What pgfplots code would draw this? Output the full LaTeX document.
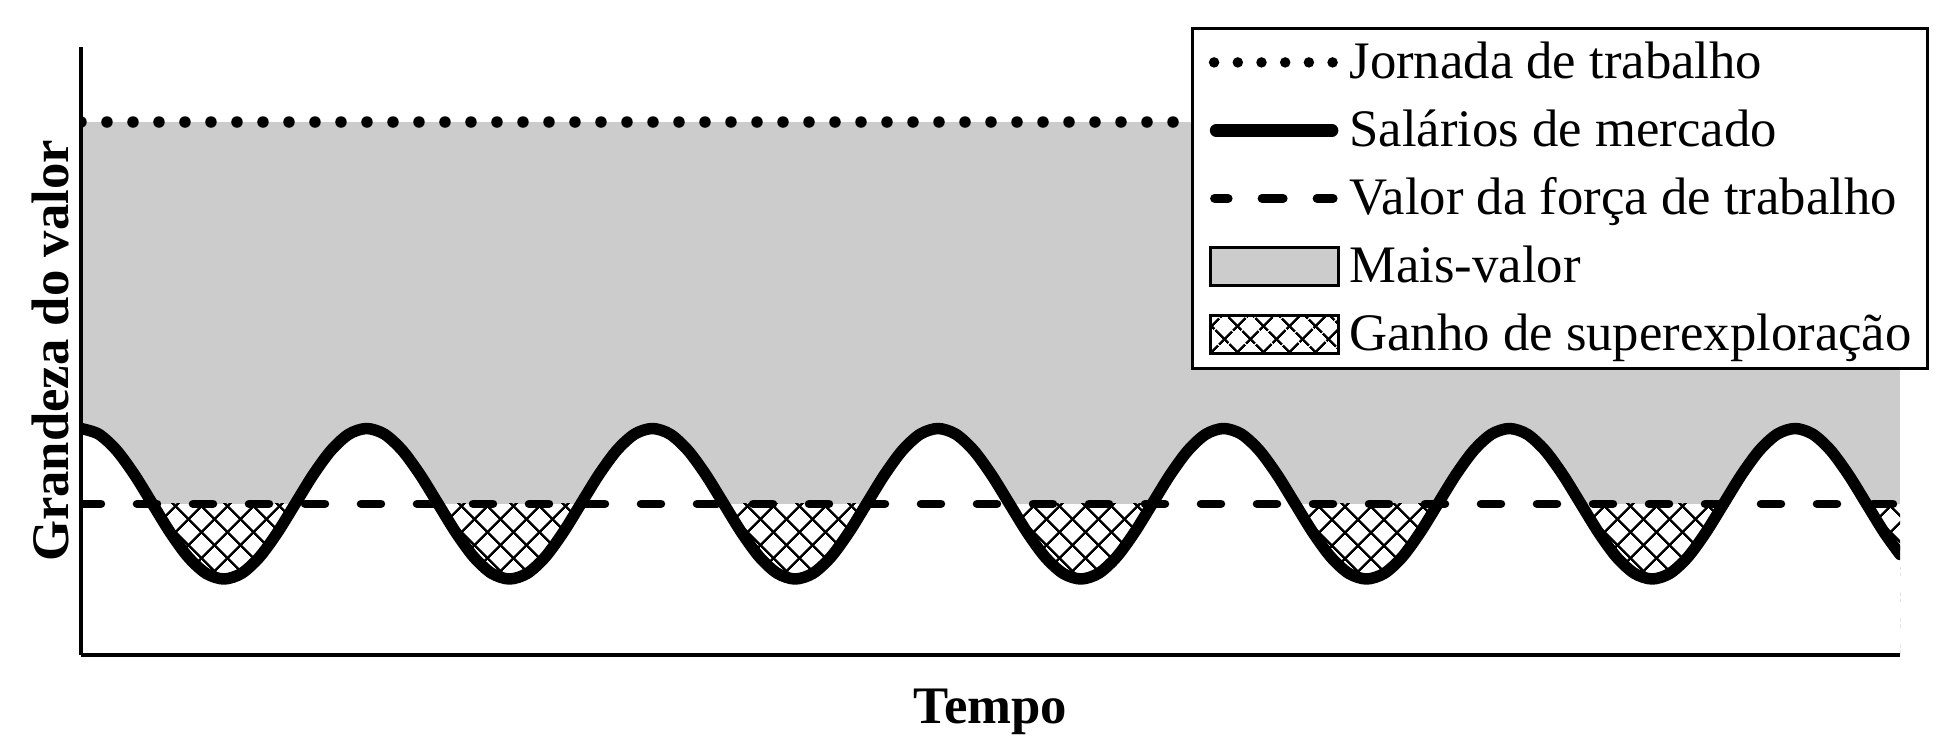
\documentclass[border=0pt]{standalone}
\usepackage{fontspec}
\setmainfont{Liberation Serif}
\usepackage{pgfplots}
\usepackage{pgfplotstable}
\pgfplotsset{compat=1.18}
\usetikzlibrary{patterns.meta}
\definecolor{mvgray}{RGB}{204,204,204}

\tikzset{
  hatch/.style={fill=white,
    postaction={pattern={Lines[angle=45,distance=1.9mm,line width=0.26mm]}},
    postaction={pattern={Lines[angle=-45,distance=1.9mm,line width=0.26mm]}}},
  jornada/.style={line width=1.15mm, line cap=round, dash pattern=on 0pt off 2.6mm},
  valor/.style={line width=0.85mm, line cap=round, dash pattern=on 2mm off 3.6mm},
  salario/.style={line width=1.15mm, line cap=round, line join=round},
}

% market wage, read at every 1/16 of a cycle (x in sixteenths of a cycle, y in px above the time axis)
\pgfplotstableread{
t w
0 226.5
1 220.8
2 204.5
3 180.1
4 151.25
5 122.4
6 98
7 81.7
8 76
9 81.7
10 98
11 122.4
12 151.25
13 180.1
14 204.5
15 220.8
16 226.5
17 220.8
18 204.5
19 180.1
20 151.25
21 122.4
22 98
23 81.7
24 76
25 81.7
26 98
27 122.4
28 151.25
29 180.1
30 204.5
31 220.8
32 226.5
33 220.8
34 204.5
35 180.1
36 151.25
37 122.4
38 98
39 81.7
40 76
41 81.7
42 98
43 122.4
44 151.25
45 180.1
46 204.5
47 220.8
48 226.5
49 220.8
50 204.5
51 180.1
52 151.25
53 122.4
54 98
55 81.7
56 76
57 81.7
58 98
59 122.4
60 151.25
61 180.1
62 204.5
63 220.8
64 226.5
65 220.8
66 204.5
67 180.1
68 151.25
69 122.4
70 98
71 81.7
72 76
73 81.7
74 98
75 122.4
76 151.25
77 180.1
78 204.5
79 220.8
80 226.5
81 220.8
82 204.5
83 180.1
84 151.25
85 122.4
86 98
87 81.7
88 76
89 81.7
90 98
91 122.4
92 151.25
93 180.1
94 204.5
95 220.8
96 226.5
97 220.8
98 204.5
99 180.1
100 151.25
101 122.4
101.88 100.6
}\wage

\begin{document}
\begin{tikzpicture}
\begin{axis}[
    scale only axis, width=181.9mm, height=60.8mm,
    xmin=0, xmax=101.88, ymin=0, ymax=608,
    axis x line=bottom, axis y line=left,
    axis line style={line width=0.9pt, -},
    axis on top,
    xtick=\empty, ytick=\empty,
    xlabel={Tempo}, ylabel={Grandeza do valor},
    label style={font=\bfseries\fontsize{15}{18}\selectfont},
    xlabel style={at={(axis description cs:0.5,0)}, anchor=north, inner sep=0pt, yshift=-3.3mm},
    ylabel style={at={(axis description cs:-0.0066,0.5)}, anchor=base, inner sep=0pt},
    legend cell align=left,
    legend style={at={(1.01594,1.0329)}, anchor=north east, draw=black, line width=0.8pt,
      fill=white, inner xsep=1.6mm, inner ysep=0pt, column sep=1mm, row sep=0pt,
      font=\fontsize{15}{18}\selectfont,
      nodes={inner sep=0pt, text height=5.0mm, text depth=1.8mm}},
  ]
  \addplot[draw=none, fill=mvgray, forget plot] coordinates {(0,533) (101.88,533)} \closedcycle;
  \addplot[draw=none, hatch, forget plot] coordinates {(0,151.25) (101.88,151.25)} \closedcycle;
  \addplot[draw=none, fill=white, smooth, forget plot] table {\wage} \closedcycle;
  \addplot[valor, forget plot] coordinates {(0,151.25) (101.88,151.25)};
  \addplot[jornada, forget plot] coordinates {(0,533) (101.88,533)};
  \addplot[salario, smooth, forget plot] table {\wage};

  \addlegendimage{legend image code/.code={\draw[jornada, line width=1.05mm, dash pattern=on 0pt off 2.37mm] (0.4mm,0) -- (12.3mm,0);}}
  \addlegendentry{Jornada de trabalho}
  \addlegendimage{legend image code/.code={\draw[salario, line width=1.25mm] (0.6mm,0) -- (12.2mm,0);}}
  \addlegendentry{Salários de mercado}
  \addlegendimage{legend image code/.code={\draw[line width=0.9mm, line cap=round] (0.45mm,0) -- (1.8mm,0) (5.2mm,0) -- (7.3mm,0) (10.7mm,0) -- (12.3mm,0);}}
  \addlegendentry{Valor da força de trabalho}
  \addlegendimage{legend image code/.code={\draw[fill=mvgray, draw=black, line width=0.8pt] (0,-1.9mm) rectangle (12.8mm,1.9mm);}}
  \addlegendentry{Mais-valor}
  \addlegendimage{legend image code/.code={\draw[hatch, draw=black, line width=0.8pt] (0,-1.9mm) rectangle (12.8mm,1.9mm);}}
  \addlegendentry{Ganho de superexploração}

  \coordinate (O) at (axis cs:0,0);
\end{axis}
\pgfresetboundingbox
\path (O) ++(-8.1mm,-9.7mm) rectangle ++(195.6mm,75.2mm);
\end{tikzpicture}
\end{document}
